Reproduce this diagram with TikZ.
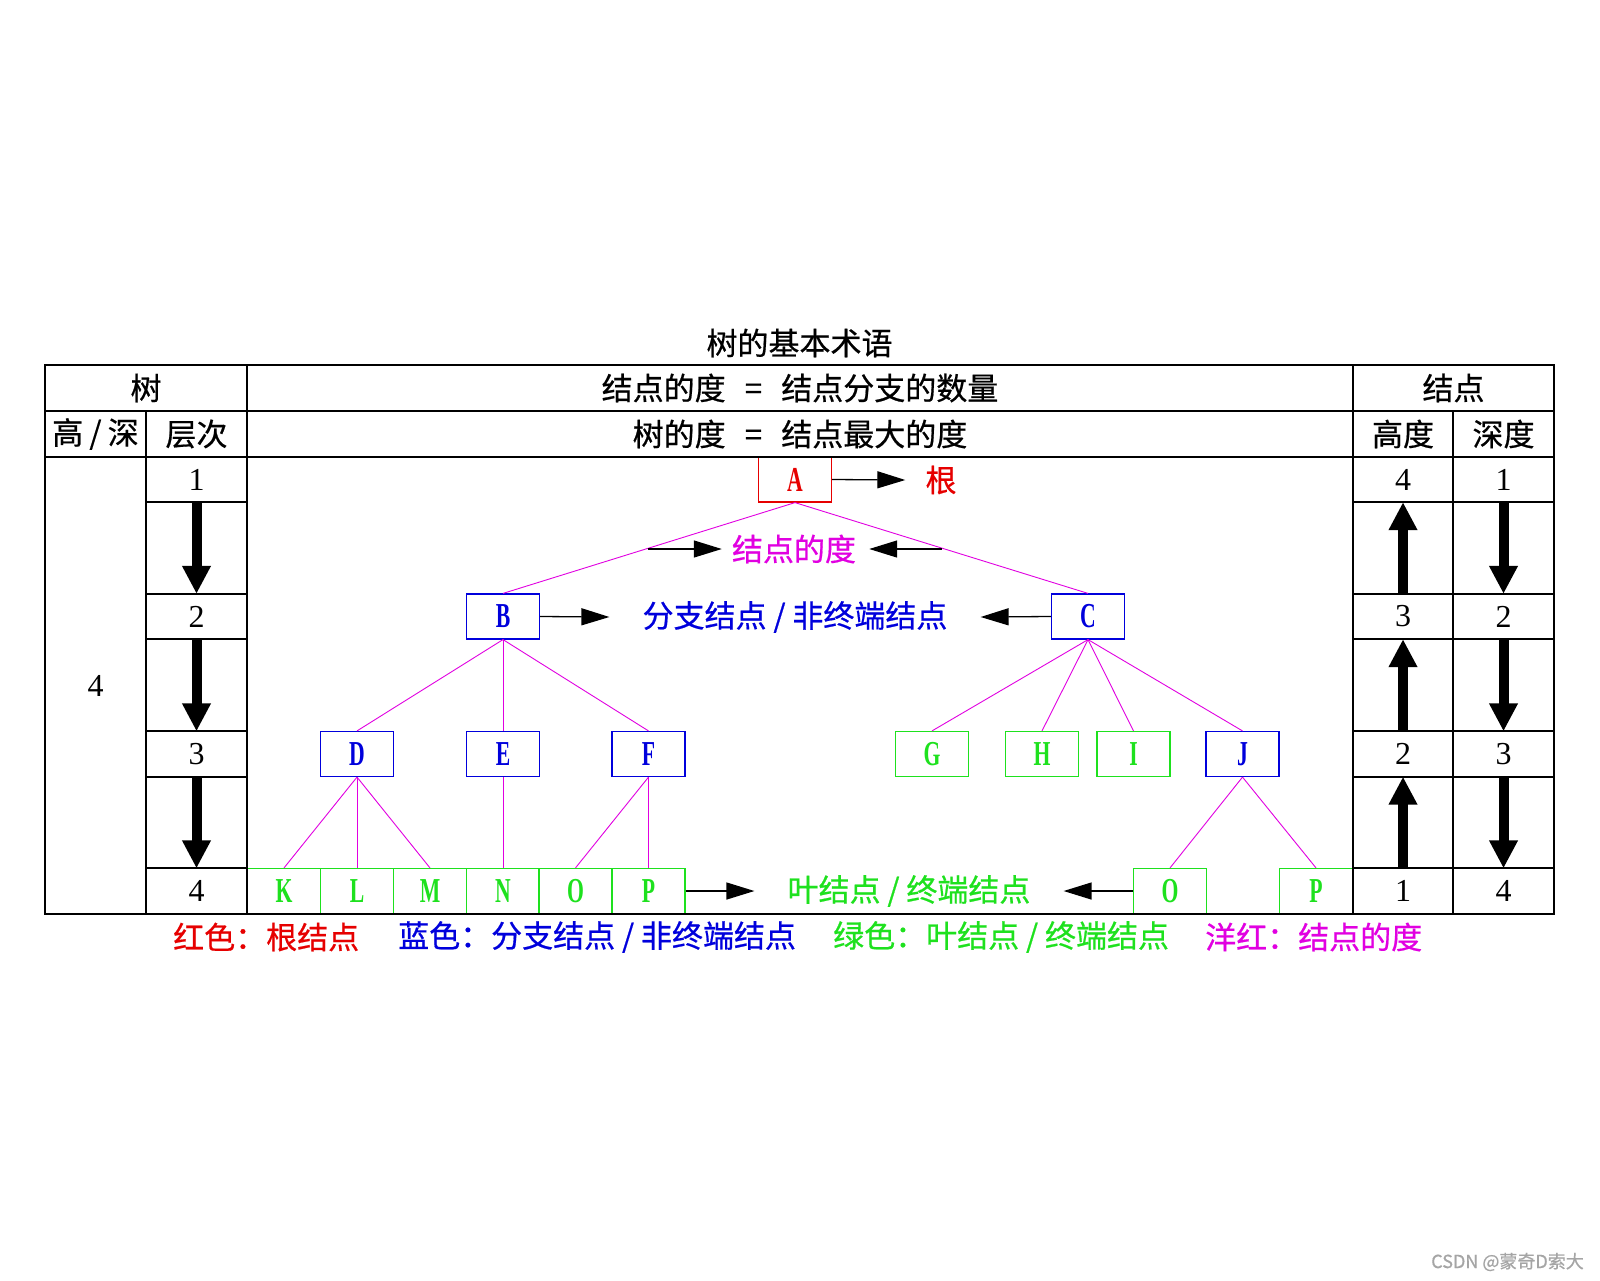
\documentclass[tikz,border=0pt]{standalone}
\usepackage{fontspec}
\setmainfont[FakeBold=0.6]{Noto Sans CJK SC}
\newfontfamily\lat{Liberation Serif}
\newfontfamily\latn[FakeStretch=0.62]{Liberation Serif}
\usetikzlibrary{arrows.meta,calc}
\definecolor{cred}{RGB}{230,0,0}
\definecolor{cblue}{RGB}{0,0,220}
\definecolor{cgreen}{RGB}{30,225,30}
\definecolor{cmag}{RGB}{225,0,225}
\definecolor{cwm}{RGB}{165,165,165}
\begin{document}
\begin{tikzpicture}[x=1pt,y=-1pt,
  txt/.style={font=\fontsize{31}{31}\selectfont, inner sep=0pt},
  num/.style={font=\lat\fontsize{32}{32}\selectfont, minimum width=101pt, minimum height=45pt, inner sep=0pt},
  tnode/.style={minimum width=73pt, minimum height=45pt, inner sep=0pt, line width=1.2pt, font=\latn\bfseries\fontsize{35}{35}\selectfont},
  rootn/.style={tnode, draw=cred, text=cred},
  branch/.style={tnode, draw=cblue, text=cblue},
  leaf/.style={tnode, draw=cgreen, text=cgreen},
  edge/.style={draw=cmag, line width=0.9pt},
  thinarrow/.style={draw=black, line width=1.3pt, -{Triangle[length=28pt,width=17pt]}},
  bigarrow/.style={draw=black, line width=10pt, -{Triangle[length=28pt,width=27pt]}},
  gridline/.style={draw=black, line width=1.8pt},
]
\fill[white] (0,0) rectangle (1600,1280);
\useasboundingbox (0,0) rectangle (1600,1280);

% title and headers
\node[txt] (title) at (799.5,343) {树的基本术语};
\node[txt] (hshu) at (146,388) {树};
\node[txt] (hdeg) at (800,388) {结点的度\hspace{0.62em}=\hspace{0.62em}结点分支的数量};
\node[txt] (hjd) at (1453.5,388) {结点};
\node[txt] (hgs) at (95.5,434) {高\hspace{0.2em}/\hspace{0.2em}深};
\node[txt] (hcc) at (196.5,434) {层次};
\node[txt] (htd) at (800,434) {树的度\hspace{0.62em}=\hspace{0.62em}结点最大的度};
\node[txt] (hgd) at (1403,434) {高度};
\node[txt] (hsd) at (1503.5,434) {深度};

% number cells
\node[num] (ht) at (95.5,685.5) {4};
\node[num] (l1) at (196.5,479.5) {1};
\node[num] (l2) at (196.5,616.5) {2};
\node[num] (l3) at (196.5,754) {3};
\node[num] (l4) at (196.5,891) {4};
\node[num] (h1) at (1403,479.5) {4};
\node[num] (h2) at (1403,616.5) {3};
\node[num] (h3) at (1403,754) {2};
\node[num] (h4) at (1403,891) {1};
\node[num] (d1) at (1503.5,479.5) {1};
\node[num] (d2) at (1503.5,616.5) {2};
\node[num] (d3) at (1503.5,754) {3};
\node[num] (d4) at (1503.5,891) {4};

\draw[bigarrow] (l1.south) -- (l2.north);
\draw[bigarrow] (l2.south) -- (l3.north);
\draw[bigarrow] (l3.south) -- (l4.north);
\draw[bigarrow] (h2.north) -- (h1.south);
\draw[bigarrow] (h3.north) -- (h2.south);
\draw[bigarrow] (h4.north) -- (h3.south);
\draw[bigarrow] (d1.south) -- (d2.north);
\draw[bigarrow] (d2.south) -- (d3.north);
\draw[bigarrow] (d3.south) -- (d4.north);

% tree nodes
\node[rootn] (A) at (795,479.5) {A};
\node[branch] (B) at (503,616.5) {B};
\node[branch] (C) at (1088,616.5) {C};
\node[branch] (D) at (357,754) {D};
\node[branch] (E) at (503,754) {E};
\node[branch] (F) at (648.5,754) {F};
\node[leaf] (G) at (932,754) {G};
\node[leaf] (H) at (1042,754) {H};
\node[leaf] (I) at (1133.5,754) {I};
\node[branch] (J) at (1242.5,754) {J};
\node[leaf] (K) at (284,891) {K};
\node[leaf] (L) at (357,891) {L};
\node[leaf] (M) at (430,891) {M};
\node[leaf] (N) at (503,891) {N};
\node[leaf] (O) at (575.5,891) {O};
\node[leaf] (P) at (648.5,891) {P};
\node[leaf] (O2) at (1170,891) {O};
\node[leaf] (P2) at (1316,891) {P};

\foreach \a/\b in {A/B,A/C,B/D,B/E,B/F,C/G,C/H,C/I,C/J,D/K,D/L,D/M,E/N,F/O,F/P,J/O2,J/P2}
  \draw[edge] (\a.south) -- (\b.north);

% labels in tree area
\node[txt, text=cred] (lroot) at (941,480) {根};
\node[txt, text=cmag] (ldeg) at (794,549) {结点的度};
\node[txt, text=cblue] (lbr) at (795,617) {分支结点\hspace{0.22em}/\hspace{0.22em}非终端结点};
\node[txt, text=cgreen] (lleaf) at (909,891) {叶结点\hspace{0.22em}/\hspace{0.22em}终端结点};

\draw[thinarrow] (A.east) -- ([xshift=-20pt]lroot.west);
\draw[thinarrow] ([xshift=-84pt]ldeg.west) -- ([xshift=-10pt]ldeg.west);
\draw[thinarrow] ([xshift=86pt]ldeg.east) -- ([xshift=13pt]ldeg.east);
\draw[thinarrow] (B.east) -- ([xshift=-33pt]lbr.west);
\draw[thinarrow] (C.west) -- ([xshift=33pt]lbr.east);
\draw[thinarrow] (P.east) -- ([xshift=-33pt]lleaf.west);
\draw[thinarrow] (O2.west) -- ([xshift=33pt]lleaf.east);

% table grid
\draw[gridline] (45,365) rectangle (1554,914);
\draw[gridline] (45,411) -- (1554,411);
\draw[gridline] (45,457) -- (1554,457);
\draw[gridline] (146,411) -- (146,914);
\draw[gridline] (247,365) -- (247,914);
\draw[gridline] (1353,365) -- (1353,914);
\draw[gridline] (1453,411) -- (1453,914);
\foreach \y in {502,594,639,731,777,868} {
  \draw[gridline] (146,\y) -- (247,\y);
  \draw[gridline] (1353,\y) -- (1554,\y);
}

% legend
\node[txt, text=cred, anchor=west] (lg1) at (173,937) {红色：根结点};
\node[txt, text=cblue, anchor=west] (lg2) at (398,937) {蓝色：分支结点\hspace{0.22em}/\hspace{0.22em}非终端结点};
\node[txt, text=cgreen, anchor=west] (lg3) at (833,937) {绿色：叶结点\hspace{0.22em}/\hspace{0.22em}终端结点};
\node[txt, text=cmag, anchor=west] (lg4) at (1205,937) {洋红：结点的度};

% watermark
\node[anchor=east, inner sep=0pt, text=cwm, font=\fontsize{18}{18}\selectfont] (wm) at (1584,1262) {CSDN @蒙奇D索大};
\end{tikzpicture}
\end{document}
